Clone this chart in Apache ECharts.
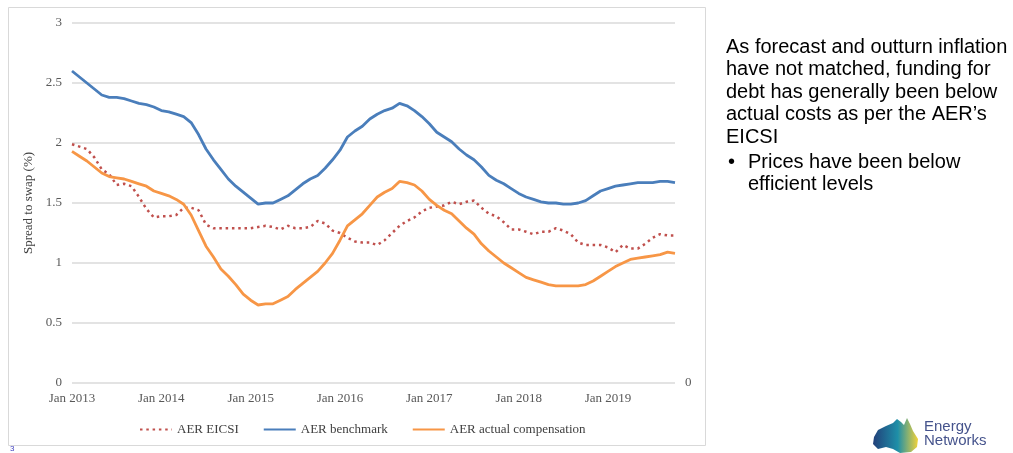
<!DOCTYPE html>
<html>
<head>
<meta charset="utf-8">
<script src="https://cdn.jsdelivr.net/npm/echarts@6/dist/echarts.min.js"></script>
<style>
    html, body { margin: 0; padding: 0; background: #ffffff; }
    #main { width: 1013px; height: 453px; }
</style>
</head>
<body>
<div id="main"></div>
<script>
var startYear = 2013;
var monthCount = 82; // Jan 2013 .. Oct 2019
var yTicks = [0, 0.5, 1, 1.5, 2, 2.5, 3];

var eicsiData = [1.99, 1.97, 1.95, 1.88, 1.78, 1.74, 1.65, 1.66, 1.64, 1.55, 1.45, 1.38,
    1.39, 1.39, 1.40, 1.46, 1.46, 1.44, 1.32, 1.29, 1.29, 1.29, 1.29, 1.29,
    1.29, 1.30, 1.31, 1.30, 1.28, 1.31, 1.29, 1.29, 1.30, 1.35, 1.33, 1.27,
    1.25, 1.21, 1.18, 1.17, 1.17, 1.15, 1.19, 1.25, 1.31, 1.35, 1.38, 1.43,
    1.46, 1.47, 1.48, 1.51, 1.49, 1.51, 1.52, 1.46, 1.41, 1.39, 1.34, 1.28,
    1.28, 1.26, 1.24, 1.26, 1.26, 1.29, 1.27, 1.24, 1.17, 1.15, 1.15, 1.15,
    1.13, 1.09, 1.15, 1.12, 1.12, 1.16, 1.21, 1.24, 1.23, 1.23];

var benchmarkData = [2.60, 2.55, 2.50, 2.45, 2.40, 2.38, 2.38, 2.37, 2.35, 2.33, 2.32, 2.30,
    2.27, 2.26, 2.24, 2.22, 2.17, 2.07, 1.95, 1.86, 1.78, 1.70, 1.64, 1.59,
    1.54, 1.49, 1.50, 1.50, 1.53, 1.56, 1.61, 1.66, 1.70, 1.73, 1.79, 1.86,
    1.94, 2.05, 2.10, 2.14, 2.20, 2.24, 2.27, 2.29, 2.33, 2.31, 2.27, 2.22,
    2.16, 2.09, 2.05, 2.01, 1.95, 1.90, 1.86, 1.80, 1.73, 1.69, 1.66, 1.62,
    1.58, 1.55, 1.53, 1.51, 1.50, 1.50, 1.49, 1.49, 1.50, 1.52, 1.56, 1.60,
    1.62, 1.64, 1.65, 1.66, 1.67, 1.67, 1.67, 1.68, 1.68, 1.67];

var compensationData = [1.93, 1.89, 1.85, 1.80, 1.75, 1.72, 1.71, 1.70, 1.68, 1.66, 1.64, 1.60,
    1.58, 1.56, 1.53, 1.49, 1.40, 1.27, 1.14, 1.05, 0.95, 0.89, 0.82, 0.74,
    0.69, 0.65, 0.66, 0.66, 0.69, 0.72, 0.78, 0.83, 0.88, 0.93, 1.00, 1.08,
    1.19, 1.31, 1.36, 1.41, 1.48, 1.55, 1.59, 1.62, 1.68, 1.67, 1.65, 1.60,
    1.53, 1.48, 1.44, 1.41, 1.35, 1.29, 1.24, 1.16, 1.10, 1.05, 1.00, 0.96,
    0.92, 0.88, 0.86, 0.84, 0.82, 0.81, 0.81, 0.81, 0.81, 0.82, 0.85, 0.89,
    0.93, 0.97, 1.00, 1.03, 1.04, 1.05, 1.06, 1.07, 1.09, 1.08];

var seriesNames = ['AER EICSI', 'AER benchmark', 'AER actual compensation'];

var monthNames = ['Jan', 'Feb', 'Mar', 'Apr', 'May', 'Jun', 'Jul', 'Aug', 'Sep', 'Oct', 'Nov', 'Dec'];
var categories = [];
for (var i = 0; i < monthCount; i++) {
    categories.push(monthNames[i % 12] + ' ' + (startYear + Math.floor(i / 12)));
}

var serif = 'Liberation Serif';
var textGrey = '#595959';
var bodyFont = '20px "Liberation Sans", Arial, sans-serif';

var myChart = echarts.init(document.getElementById('main'));

var option = {
    backgroundColor: '#ffffff',
    animation: false,
    grid: {
        left: 72,
        right: 338,
        top: 23,
        bottom: 70
    },
    legend: {
        top: 418,
        left: 134,
        itemWidth: 32,
        itemHeight: 14,
        itemGap: 24,
        itemStyle: { opacity: 0 }, // line only, no marker
        textStyle: {
            fontFamily: serif,
            fontSize: 13,
            color: '#404040'
        },
        data: seriesNames
    },
    xAxis: {
        type: 'category',
        boundaryGap: false,
        data: categories,
        axisLine: { show: false },
        axisTick: { show: false },
        axisLabel: {
            interval: 11,
            margin: 9,
            fontFamily: serif,
            fontSize: 13,
            color: textGrey
        }
    },
    yAxis: [{
        type: 'value',
        min: yTicks[0],
        max: yTicks[yTicks.length - 1],
        interval: 0.5,
        name: 'Spread to swap (%)',
        nameLocation: 'middle',
        nameGap: 31,
        nameTextStyle: {
            fontFamily: serif,
            fontSize: 13,
            color: '#404040'
        },
        axisLine: { show: false },
        axisTick: { show: false },
        axisLabel: {
            margin: 10,
            fontFamily: serif,
            fontSize: 13,
            color: textGrey
        },
        splitLine: {
            lineStyle: { color: '#dadada', width: 1.5 }
        }
    }, {
        // right hand axis only carries a lone 0
        type: 'value',
        position: 'right',
        min: yTicks[0],
        max: yTicks[yTicks.length - 1],
        interval: 0.5,
        axisLine: { show: false },
        axisTick: { show: false },
        splitLine: { show: false },
        axisLabel: {
            margin: 10,
            fontFamily: serif,
            fontSize: 13,
            color: textGrey,
            formatter: function (v) {
                return v === 0 ? '0' : '';
            }
        }
    }],
    series: [{
        name: seriesNames[0],
        type: 'line',
        symbol: 'none',
        data: eicsiData,
        z: 3,
        lineStyle: {
            color: '#c0504d',
            width: 2.5,
            type: [2.5, 3.8]
        },
        itemStyle: { color: '#c0504d' }
    }, {
        name: seriesNames[1],
        type: 'line',
        symbol: 'none',
        data: benchmarkData,
        lineStyle: { color: '#4a7ebb', width: 2.8 },
        itemStyle: { color: '#4a7ebb' }
    }, {
        name: seriesNames[2],
        type: 'line',
        symbol: 'none',
        data: compensationData,
        lineStyle: { color: '#f79646', width: 2.8 },
        itemStyle: { color: '#f79646' }
    }],
    graphic: [
        // chart frame
        {
            type: 'rect',
            shape: { x: 8.5, y: 7.5, width: 697, height: 438 },
            style: { fill: 'none', stroke: '#d9d9d9', lineWidth: 1 },
            silent: true
        },
        // commentary on the right
        {
            type: 'text',
            left: 726,
            top: 36,
            style: {
                text: 'As forecast and outturn inflation\nhave not matched, funding for\ndebt has generally been below\nactual costs as per the AER\u2019s\nEICSI',
                font: bodyFont,
                lineHeight: 22.5,
                fill: '#000000'
            }
        },
        {
            type: 'text',
            left: 728,
            top: 151,
            style: {
                text: '\u2022',
                font: bodyFont,
                lineHeight: 22.5,
                fill: '#000000'
            }
        },
        {
            type: 'text',
            left: 748,
            top: 151,
            style: {
                text: 'Prices have been below\nefficient levels',
                font: bodyFont,
                lineHeight: 22.5,
                fill: '#000000'
            }
        },
        // logo
        {
            type: 'polygon',
            shape: {
                points: [[874, 437], [878, 430], [886, 426], [893, 423], [897, 419], [901, 422],
                    [904, 425], [907, 418], [910, 424], [913, 431], [918, 439], [917, 447],
                    [911, 452], [900, 453], [893, 449], [886, 447], [878, 449], [873, 444]]
            },
            style: {
                fill: new echarts.graphic.LinearGradient(0, 0, 1, 0, [
                    { offset: 0, color: '#22407a' },
                    { offset: 0.55, color: '#1e8fa8' },
                    { offset: 1, color: '#f2d23a' }
                ])
            },
            silent: true
        },
        {
            type: 'text',
            left: 924,
            top: 419,
            style: {
                text: 'Energy\nNetworks',
                font: '15px "Liberation Sans", Arial, sans-serif',
                lineHeight: 14.5,
                fill: '#45538c'
            }
        },
        {
            type: 'text',
            left: 10,
            top: 445,
            style: {
                text: '3',
                font: '8px "Liberation Sans", Arial, sans-serif',
                fill: '#4040c0'
            }
        }
    ]
};

myChart.setOption(option);
</script>
</body>
</html>
